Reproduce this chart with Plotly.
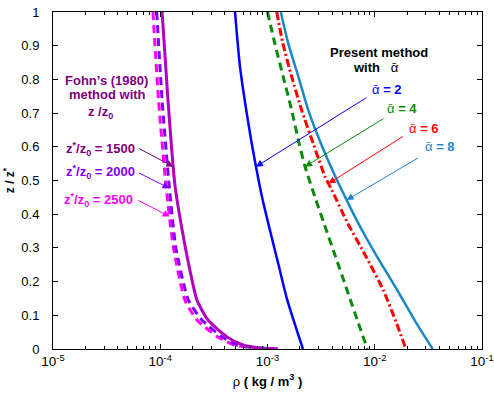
import numpy as np
import plotly.graph_objects as go

# ---------------- data ----------------
# Present method, alpha-bar = 2, 4, 6, 8
z_a2 = [1.0, 0.838, 0.640, 0.541, 0.442, 0.344, 0.244, 0.145, 0.0]
rho_a2 = [4.98e-4, 5.54e-4, 6.87e-4, 7.81e-4, 9.02e-4, 1.07e-3, 1.28e-3, 1.53e-3, 2.14e-3]

z_a4 = [1.0, 0.907, 0.808, 0.709, 0.610, 0.541, 0.442, 0.373, 0.274, 0.175, 0.076, 0.0]
rho_a4 = [1.0e-3, 1.17e-3, 1.40e-3, 1.68e-3, 1.97e-3, 2.24e-3, 2.83e-3, 3.36e-3, 4.31e-3, 5.51e-3, 7.05e-3, 8.55e-3]

z_a6 = [1.0, 0.907, 0.808, 0.709, 0.610, 0.511, 0.472, 0.373, 0.274, 0.175, 0.076, 0.0]
rho_a6 = [1.22e-3, 1.39e-3, 1.68e-3, 2.08e-3, 2.67e-3, 3.44e-3, 3.97e-3, 5.60e-3, 8.30e-3, 1.20e-2, 1.60e-2, 1.95e-2]

z_a8 = [1.0, 0.907, 0.808, 0.709, 0.610, 0.511, 0.432, 0.373, 0.274, 0.175, 0.076, 0.0]
rho_a8 = [1.33e-3, 1.56e-3, 1.94e-3, 2.40e-3, 3.15e-3, 4.30e-3, 5.66e-3, 7.03e-3, 1.05e-2, 1.62e-2, 2.45e-2, 3.47e-2]

# Fohn's (1980) method, z*/z0 = 1500, 2000, 2500
z_f1500 = [1.0, 0.739, 0.487, 0.353, 0.234, 0.145, 0.086, 0.036, 0.012, 0.004, 0.0]
rho_f1500 = [1.04e-4, 1.18e-4, 1.37e-4, 1.60e-4, 1.89e-4, 2.20e-4, 2.79e-4, 4.19e-4, 5.91e-4, 8.15e-4, 1.25e-3]

z_f2000 = [1.0, 0.739, 0.487, 0.300, 0.145, 0.086, 0.036, 0.012, 0.004, 0.0]
rho_f2000 = [9.27e-5, 1.04e-4, 1.21e-4, 1.40e-4, 1.83e-4, 2.45e-4, 3.77e-4, 5.20e-4, 7.60e-4, 1.25e-3]

z_f2500 = [1.0, 0.739, 0.487, 0.300, 0.145, 0.086, 0.036, 0.012, 0.004, 0.0]
rho_f2500 = [8.55e-5, 9.64e-5, 1.13e-4, 1.33e-4, 1.70e-4, 2.20e-4, 3.45e-4, 4.88e-4, 7.33e-4, 1.25e-3]

alpha_labels = ["2", "4", "6", "8"]
ratio_labels = ["1500", "2000", "2500"]
x_tick_exps = [-5, -4, -3, -2, -1]

# ---------------- styling ----------------
C_BLUE = "#0000FF"
C_GREEN = "#0A8A0A"
C_RED = "#FF0000"
C_CYAN = "#1A88C8"
C_SOLID_F = "#B000C0"
C_VIOLET = "#8000FF"
C_MAG = "#FF00FF"
C_PURPLE_TXT = "#800080"

FONT = "Liberation Sans, Arial, sans-serif"

PLOT_L, PLOT_R, PLOT_T, PLOT_B = 53, 482, 12, 349

fig = go.Figure()

def add_curve(z, rho, color, dash, width):
    fig.add_trace(go.Scatter(
        x=rho, y=z, mode="lines",
        line=dict(color=color, dash=dash, width=width, shape="spline", smoothing=0.6),
        showlegend=False, hoverinfo="skip"))

add_curve(z_f2500, rho_f2500, C_MAG, "8px,5px", 3)
add_curve(z_f2000, rho_f2000, C_VIOLET, "8px,5px", 3)
add_curve(z_f1500, rho_f1500, C_SOLID_F, "solid", 3)
add_curve(z_a2, rho_a2, C_BLUE, "solid", 2.5)
add_curve(z_a4, rho_a4, C_GREEN, "8px,5px", 3)
add_curve(z_a6, rho_a6, C_RED, "8px,3px,2px,3px", 3)
add_curve(z_a8, rho_a8, C_CYAN, "solid", 2.5)

def tip(z, rho, zt):
    zz = np.array(z)[::-1]
    lr = np.log10(np.array(rho))[::-1]
    return float(np.interp(zt, zz, lr))

annotations = []

# arrows: (z, rho, target z, color, ax, ay)
arrows = [
    (z_a2, rho_a2, 0.541, C_BLUE, 112, -70),
    (z_a4, rho_a4, 0.541, C_GREEN, 80, -49),
    (z_a6, rho_a6, 0.491, C_RED, 76, -48),
    (z_a8, rho_a8, 0.442, C_CYAN, 73, -43),
    (z_f1500, rho_f1500, 0.541, C_PURPLE_TXT, -36, -19),
    (z_f2000, rho_f2000, 0.477, C_VIOLET, -32, -16),
    (z_f2500, rho_f2500, 0.393, C_MAG, -33, -17),
]
for z, rho, zt, col, ax, ay in arrows:
    annotations.append(dict(
        x=tip(z, rho, zt), y=zt, xref="x", yref="y", text="",
        showarrow=True, arrowhead=2, arrowsize=1.4, arrowwidth=1, arrowcolor=col,
        ax=ax, ay=ay, standoff=0))

def px2paper(px, py):
    return (px - PLOT_L) / float(PLOT_R - PLOT_L), (PLOT_B - py) / float(PLOT_B - PLOT_T)

def text_ann(px, py, text, color, size=13, xanchor="center"):
    x, y = px2paper(px, py)
    annotations.append(dict(x=x, y=y, xref="paper", yref="paper", text=text,
                            showarrow=False, xanchor=xanchor, yanchor="middle",
                            font=dict(family=FONT, size=size, color=color)))

# Present method texts
text_ann(379, 52, "<b>Present method</b>", "black")
text_ann(376, 68, "<b>with</b>   ᾱ", "black")
alpha_cols = [C_BLUE, C_GREEN, C_RED, C_CYAN]
alpha_pos = [(387, 89), (402, 109), (424, 128), (440, 147)]
for lab, col, (px, py) in zip(alpha_labels, alpha_cols, alpha_pos):
    text_ann(px, py, "ᾱ<b> = " + lab + "</b>", col)

# Fohn texts
text_ann(106, 81, "<b>Fohn’s (1980)</b>", C_PURPLE_TXT)
text_ann(107, 95, "<b>method with</b>", C_PURPLE_TXT)
text_ann(100, 112, "<b>z /z<sub>0</sub></b>", C_PURPLE_TXT)
ratio_cols = [C_PURPLE_TXT, C_VIOLET, C_MAG]
ratio_pos = [(100, 149), (100, 172), (98, 200)]
for lab, col, (px, py) in zip(ratio_labels, ratio_cols, ratio_pos):
    text_ann(px, py, "<b>z<sup>*</sup>/z<sub>0</sub> = " + lab + "</b>", col)

fig.update_layout(
    width=494, height=396,
    margin=dict(l=PLOT_L, r=494 - PLOT_R, t=PLOT_T, b=396 - PLOT_B, autoexpand=False),
    paper_bgcolor="white", plot_bgcolor="white",
    font=dict(family=FONT, size=12, color="black"),
    annotations=annotations,
    xaxis=dict(
        type="log", range=[-5, -1], automargin=False,
        tickvals=[10.0 ** e for e in x_tick_exps],
        ticktext=["10<sup>%d</sup>" % e for e in x_tick_exps],
        ticks="inside", ticklen=5, tickcolor="black",
        tickfont=dict(size=13.5),
        minor=dict(ticks="inside", ticklen=3, tickcolor="black", dtick="D1", showgrid=False),
        showline=True, linecolor="black", linewidth=1, mirror="ticks",
        showgrid=False, zeroline=False,
        title=dict(text="ρ <b>( kg / m<sup>3</sup> )</b>", standoff=8,
                   font=dict(size=13)),
    ),
    yaxis=dict(
        range=[0, 1], dtick=0.1, automargin=False,
        ticks="inside", ticklen=5, tickcolor="black",
        tickfont=dict(size=13),
        ticklabelstandoff=10,
        showline=True, linecolor="black", linewidth=1, mirror="ticks",
        showgrid=False, zeroline=False,
        title=dict(text="<b>z / z<sup>*</sup></b>", standoff=4, font=dict(size=12)),
    ),
)

fig.write_html(
    "out.html",
    config={"displayModeBar": False},
    post_script="document.body.style.margin='0px';"
                "document.documentElement.style.overflow='hidden';"
                "document.body.style.overflow='hidden';",
)
